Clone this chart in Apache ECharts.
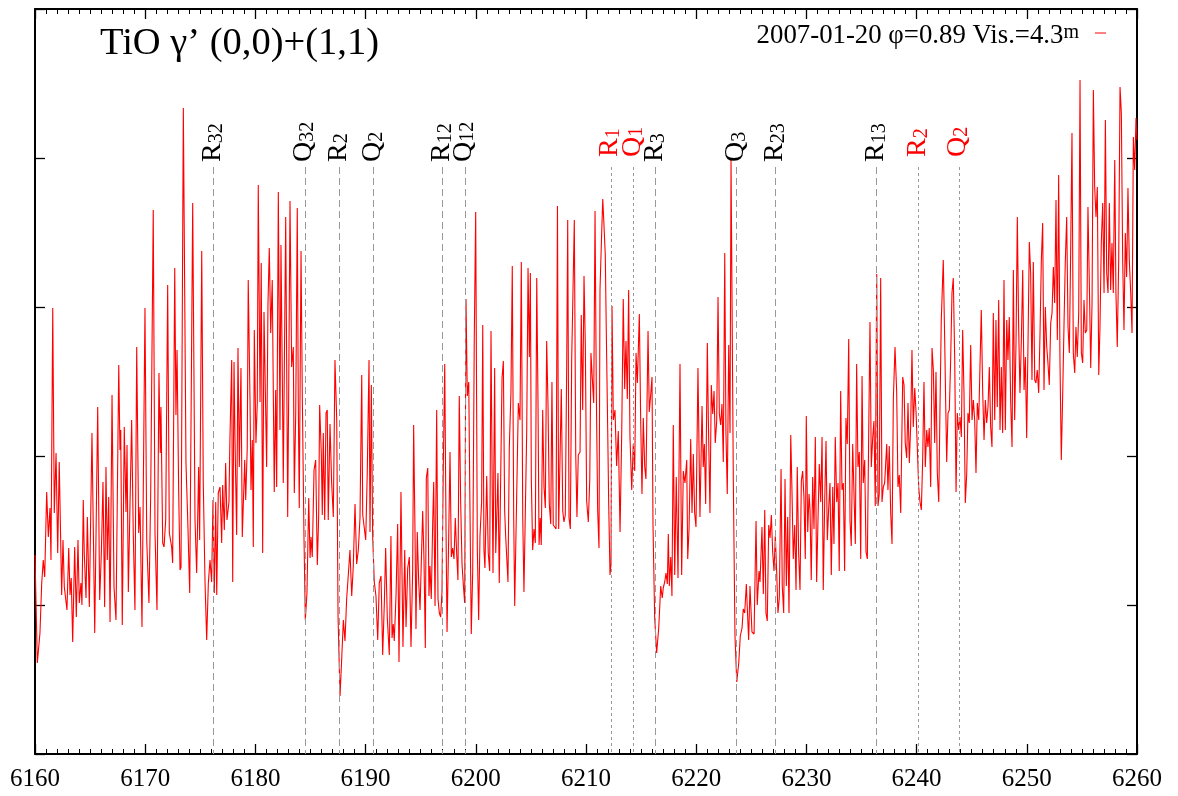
<!DOCTYPE html>
<html>
<head>
<meta charset="utf-8">
<script src="https://cdn.jsdelivr.net/npm/echarts/dist/echarts.min.js"></script>
<style>html,body{margin:0;padding:0;background:#fff;}#chart{width:1178px;height:796px;}</style>
</head>
<body>
<div id="chart"></div>
<script>
// ---- data (wavelength in Å, relative flux in arbitrary units) ----
const X_TICKS = [6160, 6170, 6180, 6190, 6200, 6210, 6220, 6230, 6240, 6250, 6260];
const TITLE = 'TiO γ’ (0,0)+(1,1)';
const LEGEND_MAIN = '2007-01-20 φ=0.89 Vis.=4.3';
const LEGEND_SUP = 'm';
// line identifications: wavelength, branch, subscript, band (0 = (0,0) black, 1 = (1,1) red)
const MARK_WL = [6176.20, 6184.50, 6187.60, 6190.70, 6196.96, 6199.02, 6212.27, 6214.29, 6216.32, 6223.67, 6227.21, 6236.38, 6240.15, 6243.85];
const MARK_BRANCH = ['R', 'Q', 'R', 'Q', 'R', 'Q', 'R', 'Q', 'R', 'Q', 'R', 'R', 'R', 'Q'];
const MARK_SUB = ['32', '32', '2', '2', '12', '12', '1', '1', '3', '3', '23', '13', '2', '2'];
const MARK_BAND = [0, 0, 0, 0, 0, 0, 1, 1, 0, 0, 0, 0, 1, 1];
// spectrum: [wavelength, flux]
const SPECTRUM = [
[6160.00,1.99],[6160.21,0.91],[6160.45,1.21],[6160.61,1.71],[6160.75,1.94],[6160.88,1.77],[6161.06,2.62],[6161.21,2.17],[6161.36,2.46],[6161.45,1.94],[6161.61,4.46],[6161.75,2.41],[6161.91,3.01],[6162.06,2.01],[6162.20,2.92],[6162.42,1.59],[6162.54,2.14],[6162.66,1.67],[6162.90,1.44],[6163.06,2.06],[6163.18,1.59],[6163.29,1.76],[6163.42,1.12],[6163.60,2.07],[6163.75,1.37],[6163.90,2.14],[6164.02,1.51],[6164.17,1.71],[6164.26,1.49],[6164.38,2.54],[6164.47,2.01],[6164.63,1.56],[6164.75,2.37],[6164.93,1.47],[6165.17,3.21],[6165.42,1.21],[6165.69,3.47],[6165.87,1.54],[6166.02,2.01],[6166.17,2.72],[6166.32,1.47],[6166.44,2.87],[6166.56,1.94],[6166.69,2.57],[6166.81,1.32],[6166.99,3.59],[6167.17,1.67],[6167.35,1.34],[6167.60,3.89],[6167.71,3.04],[6167.78,3.24],[6167.92,1.29],[6168.10,3.27],[6168.26,2.42],[6168.35,3.09],[6168.47,1.62],[6168.62,2.49],[6168.77,3.34],[6168.92,2.19],[6169.07,1.44],[6169.23,4.07],[6169.41,2.21],[6169.53,2.47],[6169.71,1.27],[6169.98,4.46],[6170.14,2.14],[6170.34,1.51],[6170.50,2.61],[6170.73,5.44],[6170.89,2.21],[6171.07,1.44],[6171.25,3.81],[6171.37,3.01],[6171.43,3.47],[6171.59,2.11],[6171.71,2.07],[6171.86,2.34],[6172.04,4.69],[6172.19,2.21],[6172.40,2.07],[6172.49,1.91],[6172.68,4.86],[6172.79,3.39],[6172.89,4.04],[6173.04,2.61],[6173.16,1.84],[6173.25,1.87],[6173.46,6.46],[6173.70,2.91],[6173.86,2.34],[6174.04,1.61],[6174.31,5.51],[6174.52,2.34],[6174.67,1.81],[6174.85,2.87],[6174.94,2.14],[6175.13,5.03],[6175.27,2.71],[6175.43,1.71],[6175.58,1.14],[6175.73,1.71],[6175.88,1.94],[6176.03,1.72],[6176.15,2.54],[6176.27,1.61],[6176.40,2.52],[6176.49,1.59],[6176.63,2.61],[6176.79,2.67],[6176.94,2.11],[6177.03,2.69],[6177.18,2.24],[6177.30,2.91],[6177.42,2.34],[6177.60,2.52],[6177.69,3.16],[6177.85,3.94],[6177.94,1.72],[6178.06,3.92],[6178.15,3.14],[6178.30,2.19],[6178.42,4.06],[6178.54,2.87],[6178.69,3.86],[6178.81,2.17],[6179.03,2.94],[6179.12,2.54],[6179.26,3.06],[6179.35,4.74],[6179.51,3.54],[6179.60,2.64],[6179.72,3.14],[6179.81,2.07],[6179.90,4.24],[6180.05,3.11],[6180.17,3.51],[6180.26,5.69],[6180.42,3.52],[6180.53,4.91],[6180.66,2.01],[6180.78,4.42],[6180.90,4.44],[6181.02,2.87],[6181.14,4.49],[6181.26,5.06],[6181.39,4.21],[6181.53,4.74],[6181.71,2.62],[6181.84,3.64],[6181.93,2.67],[6182.08,5.62],[6182.23,3.24],[6182.32,5.09],[6182.44,3.81],[6182.53,2.71],[6182.75,5.37],[6182.93,2.37],[6183.02,3.59],[6183.14,5.53],[6183.29,3.87],[6183.44,4.07],[6183.53,2.61],[6183.66,3.41],[6183.80,5.46],[6183.89,3.54],[6183.98,2.46],[6184.14,5.03],[6184.26,3.54],[6184.41,2.16],[6184.53,1.34],[6184.68,1.61],[6184.84,2.56],[6184.96,1.96],[6185.05,2.17],[6185.16,1.97],[6185.32,2.84],[6185.47,2.94],[6185.62,1.89],[6185.74,2.37],[6185.83,3.49],[6185.98,3.01],[6186.07,2.39],[6186.16,3.21],[6186.29,2.34],[6186.41,3.41],[6186.52,3.44],[6186.61,2.34],
[6186.77,3.30],[6186.92,2.71],[6187.07,2.37],[6187.22,3.94],[6187.38,3.34],[6187.50,1.37],[6187.68,0.58],[6187.83,0.95],[6187.98,1.34],[6188.13,1.13],[6188.28,1.55],[6188.43,1.79],[6188.58,2.04],[6188.74,1.58],[6188.88,1.87],[6189.04,2.50],[6189.19,1.90],[6189.34,2.04],[6189.49,2.36],[6189.65,3.79],[6189.74,2.39],[6189.88,2.37],[6190.01,2.14],[6190.15,2.81],[6190.31,3.94],[6190.40,2.22],[6190.52,3.69],[6190.64,2.18],[6190.79,1.72],[6190.94,1.58],[6191.10,1.14],[6191.24,1.71],[6191.40,1.78],[6191.55,0.99],[6191.70,1.51],[6191.82,2.06],[6191.97,1.36],[6192.06,1.34],[6192.15,0.99],[6192.30,2.18],[6192.40,1.16],[6192.51,1.30],[6192.60,1.13],[6192.76,1.58],[6192.91,2.30],[6193.03,0.92],[6193.21,2.62],[6193.39,1.07],[6193.55,2.04],[6193.67,1.27],[6193.82,1.86],[6193.97,1.97],[6194.12,1.07],[6194.27,1.83],[6194.36,3.29],[6194.48,2.25],[6194.57,1.25],[6194.69,2.22],[6194.82,1.72],[6194.94,1.44],[6195.05,1.90],[6195.18,2.43],[6195.30,1.94],[6195.42,1.06],[6195.51,2.76],[6195.64,2.86],[6195.75,1.58],[6195.84,1.88],[6195.96,1.55],[6196.09,2.32],[6196.18,2.72],[6196.30,1.48],[6196.45,3.44],[6196.57,1.55],[6196.69,1.41],[6196.81,1.37],[6196.93,1.62],[6197.05,2.86],[6197.18,3.90],[6197.30,2.23],[6197.39,1.22],[6197.54,2.16],[6197.66,3.02],[6197.78,1.97],[6197.90,2.06],[6198.02,1.95],[6198.14,2.36],[6198.27,1.99],[6198.38,1.74],[6198.50,3.58],[6198.63,2.50],[6198.75,1.90],[6198.87,1.69],[6198.99,1.51],[6199.11,4.55],[6199.23,3.58],[6199.36,3.72],[6199.47,2.46],[6199.59,1.20],[6199.72,1.83],[6199.86,4.14],[6199.99,5.42],[6200.14,2.04],[6200.26,1.34],[6200.38,2.18],[6200.53,2.53],[6200.63,4.29],[6200.74,2.04],[6200.83,1.86],[6200.99,2.78],[6201.13,2.01],[6201.26,1.83],[6201.38,4.23],[6201.50,2.53],[6201.56,1.81],[6201.71,3.86],[6201.81,2.01],[6202.01,2.81],[6202.13,1.71],[6202.38,3.76],[6202.50,3.93],[6202.62,2.43],[6202.71,2.18],[6202.92,1.72],[6203.04,3.06],[6203.19,3.62],[6203.31,4.88],[6203.44,2.37],[6203.53,1.48],[6203.65,1.48],[6203.77,2.95],[6203.86,3.51],[6204.01,3.34],[6204.13,4.92],[6204.26,2.36],[6204.37,1.62],[6204.62,3.23],[6204.74,4.86],[6204.86,3.97],[6204.95,4.81],[6205.04,2.74],[6205.16,2.04],[6205.28,2.25],[6205.40,2.11],[6205.53,4.76],[6205.64,3.58],[6205.74,2.09],[6205.85,2.36],[6205.94,2.09],[6206.07,3.44],[6206.19,2.67],[6206.31,2.46],[6206.43,4.13],[6206.55,3.51],[6206.67,2.50],[6206.80,2.30],[6206.91,3.72],[6207.03,2.29],[6207.28,2.25],[6207.41,5.48],[6207.52,2.25],[6207.76,3.65],[6207.89,2.43],[6208.00,2.32],[6208.12,2.39],[6208.25,3.90],[6208.34,5.34],[6208.46,2.36],[6208.58,2.25],[6208.70,3.93],[6208.82,3.93],[6208.94,5.34],[6209.07,2.99],[6209.18,2.37],[6209.30,2.99],[6209.46,3.02],[6209.57,4.39],[6209.70,3.44],[6209.82,4.78],[6209.94,4.08],[6210.06,2.53],[6210.21,2.32],[6210.34,2.74],[6210.45,4.01],[6210.57,3.76],[6210.70,3.51],[6210.82,5.43],[6210.94,3.58],[6211.06,2.43],[6211.18,2.06],[6211.27,4.64],[6211.42,5.20],[6211.52,5.55],[6211.61,5.34],[6211.75,4.99],[6211.84,4.24],[6211.97,3.24],[6212.06,2.50],[6212.18,1.79],[6212.27,1.90],[6212.36,4.48],[6212.48,3.34],[6212.63,3.44],[6212.78,2.88],[6212.93,3.23],[6213.09,2.22],[6213.24,3.20],[6213.38,4.55],[6213.51,3.65],[6213.63,4.13],[6213.75,3.55],[6213.87,4.64],
[6213.99,3.17],[6214.15,2.64],[6214.29,3.10],[6214.42,2.83],[6214.54,4.01],[6214.66,3.71],[6214.84,4.40],[6214.96,3.36],[6215.08,2.60],[6215.20,3.36],[6215.33,2.87],[6215.44,2.75],[6215.63,4.23],[6215.74,3.42],[6215.87,3.59],[6215.99,3.77],[6216.08,2.29],[6216.23,1.37],[6216.41,1.01],[6216.60,1.26],[6216.78,1.68],[6216.92,1.56],[6217.01,1.66],[6217.14,1.72],[6217.26,1.81],[6217.38,1.70],[6217.47,2.20],[6217.56,1.68],[6217.69,1.97],[6217.80,1.58],[6217.92,3.29],[6218.05,1.79],[6218.19,2.77],[6218.35,1.76],[6218.53,3.90],[6218.68,1.79],[6218.83,2.83],[6218.98,2.71],[6219.14,2.94],[6219.23,1.95],[6219.35,2.25],[6219.50,3.15],[6219.62,2.41],[6219.74,3.00],[6219.86,2.41],[6219.98,2.27],[6220.16,3.86],[6220.34,2.37],[6220.53,3.48],[6220.64,2.87],[6220.74,3.10],[6220.86,2.50],[6221.01,4.11],[6221.10,3.36],[6221.25,2.41],[6221.37,3.69],[6221.50,3.40],[6221.62,3.63],[6221.73,3.11],[6221.86,3.33],[6221.98,4.57],[6222.10,3.40],[6222.22,3.29],[6222.34,3.50],[6222.46,2.92],[6222.59,5.01],[6222.70,3.21],[6222.82,2.60],[6222.95,4.09],[6223.07,3.21],[6223.16,5.95],[6223.25,5.95],[6223.37,2.71],[6223.52,1.18],[6223.68,0.72],[6223.86,0.91],[6224.00,1.18],[6224.16,1.26],[6224.27,1.45],[6224.40,1.41],[6224.55,1.70],[6224.64,1.45],[6224.76,1.14],[6224.88,1.68],[6225.06,1.22],[6225.25,1.20],[6225.43,2.33],[6225.54,1.49],[6225.70,1.83],[6225.79,1.72],[6225.97,2.27],[6226.09,1.60],[6226.22,2.44],[6226.33,1.41],[6226.45,1.33],[6226.58,2.29],[6226.70,2.16],[6226.82,2.39],[6226.94,2.02],[6227.06,1.83],[6227.18,2.18],[6227.30,1.83],[6227.42,1.41],[6227.54,1.56],[6227.70,2.85],[6227.81,1.68],[6227.94,1.41],[6228.06,2.75],[6228.18,1.68],[6228.30,2.37],[6228.42,1.41],[6228.58,3.19],[6228.69,2.64],[6228.81,1.95],[6228.94,2.29],[6229.06,1.64],[6229.17,2.87],[6229.30,1.99],[6229.42,1.64],[6229.54,2.73],[6229.66,2.83],[6229.78,2.56],[6229.90,1.95],[6229.99,3.38],[6230.12,2.22],[6230.24,2.60],[6230.33,2.44],[6230.44,1.74],[6230.57,2.77],[6230.69,2.25],[6230.81,3.17],[6230.93,1.72],[6231.05,2.33],[6231.17,2.90],[6231.30,2.52],[6231.42,3.17],[6231.53,1.64],[6231.66,2.52],[6231.78,3.13],[6231.90,2.14],[6232.02,2.45],[6232.14,2.71],[6232.26,1.79],[6232.39,2.67],[6232.50,2.10],[6232.62,3.17],[6232.75,2.52],[6232.87,2.71],[6232.98,1.83],[6233.11,3.63],[6233.23,2.64],[6233.35,2.71],[6233.47,1.83],[6233.59,3.36],[6233.71,3.10],[6233.84,4.15],[6233.96,2.33],[6234.07,2.08],[6234.20,3.10],[6234.44,2.10],[6234.56,3.90],[6234.68,2.87],[6234.80,3.02],[6234.93,1.95],[6235.05,3.78],[6235.16,2.71],[6235.29,2.94],[6235.41,2.02],[6235.53,1.95],[6235.65,3.17],[6235.77,4.32],[6235.89,2.87],[6236.02,3.17],[6236.13,3.33],[6236.25,2.48],[6236.38,4.80],[6236.50,2.48],[6236.61,2.60],[6236.74,4.76],[6236.86,2.52],[6236.98,2.67],[6237.10,2.71],[6237.29,3.10],[6237.40,2.64],[6237.52,3.08],[6237.65,2.41],[6237.77,2.10],[6237.89,3.55],[6238.04,4.07],[6238.19,3.63],[6238.31,2.67],[6238.43,2.79],
[6238.56,2.41],[6238.74,3.77],[6238.86,3.69],[6238.97,3.11],[6239.10,2.96],[6239.22,3.51],[6239.34,2.91],[6239.46,3.27],[6239.58,4.04],[6239.70,3.27],[6239.83,3.66],[6239.95,3.42],[6240.19,2.67],[6240.31,2.52],[6240.43,2.44],[6240.55,2.94],[6240.67,3.72],[6240.79,2.87],[6240.92,3.24],[6241.03,3.07],[6241.15,3.26],[6241.28,2.67],[6241.40,4.06],[6241.52,3.84],[6241.64,3.11],[6241.76,3.82],[6241.88,2.81],[6242.01,2.52],[6242.12,3.44],[6242.24,4.34],[6242.42,4.94],[6242.55,4.14],[6242.64,3.51],[6242.73,2.92],[6242.85,3.41],[6242.97,3.44],[6243.09,3.94],[6243.21,4.61],[6243.33,4.76],[6243.46,3.94],[6243.58,2.62],[6243.69,3.41],[6243.82,3.24],[6243.94,3.37],[6244.06,3.17],[6244.18,4.24],[6244.30,3.61],[6244.42,2.51],[6244.55,2.81],[6244.66,3.41],[6244.78,3.31],[6244.91,4.09],[6245.03,3.34],[6245.15,3.54],[6245.27,3.34],[6245.39,2.81],[6245.51,3.51],[6245.64,3.34],[6245.75,3.87],[6245.87,4.44],[6246.00,3.61],[6246.12,3.14],[6246.24,3.54],[6246.36,3.31],[6246.48,3.47],[6246.60,3.87],[6246.72,3.27],[6246.84,3.07],[6246.96,4.41],[6247.09,3.34],[6247.20,4.34],[6247.32,3.47],[6247.45,4.54],[6247.57,3.24],[6247.69,3.87],[6247.81,3.21],[6247.93,4.74],[6248.05,3.24],[6248.18,4.34],[6248.29,3.94],[6248.41,4.37],[6248.54,3.51],[6248.66,3.07],[6248.78,4.84],[6248.90,3.34],[6249.02,4.11],[6249.14,5.37],[6249.26,4.27],[6249.38,3.61],[6249.50,4.11],[6249.63,4.84],[6249.75,3.64],[6249.87,3.97],[6249.99,3.16],[6250.11,4.11],[6250.23,5.12],[6250.35,4.81],[6250.47,3.74],[6250.59,4.92],[6250.72,3.74],[6250.83,3.71],[6250.95,3.84],[6251.08,3.61],[6251.20,4.21],[6251.32,4.94],[6251.44,5.31],[6251.56,3.64],[6251.68,4.47],[6251.81,4.07],[6251.92,3.91],[6252.04,3.69],[6252.17,4.31],[6252.29,4.41],[6252.41,4.87],[6252.53,4.51],[6252.65,5.54],[6252.77,4.14],[6252.89,5.79],[6253.01,3.94],[6253.13,2.94],[6253.26,3.61],[6253.38,4.31],[6253.49,4.91],[6253.62,5.37],[6253.74,4.27],[6253.86,4.01],[6253.98,5.02],[6254.10,6.21],[6254.22,4.01],[6254.35,3.81],[6254.46,4.27],[6254.58,3.97],[6254.71,4.41],[6254.83,6.74],[6254.95,4.01],[6255.07,3.91],[6255.19,4.54],[6255.31,4.21],[6255.44,4.24],[6255.55,5.47],[6255.67,4.74],[6255.80,3.86],[6255.92,4.51],[6256.04,6.64],[6256.16,5.67],[6256.28,5.37],[6256.40,5.67],[6256.53,3.79],[6256.64,4.27],[6256.76,5.11],[6256.89,5.51],[6257.01,4.61],[6257.13,6.34],[6257.25,4.81],[6257.37,4.61],[6257.49,5.51],[6257.61,4.64],[6257.73,5.11],[6257.85,4.61],[6257.98,5.94],[6258.09,4.61],[6258.21,4.07],[6258.34,4.94],[6258.46,6.67],[6258.58,6.41],[6258.70,4.94],[6258.82,4.24],[6258.94,5.21],[6259.06,4.77],[6259.18,5.66],[6259.30,4.94],[6259.43,4.61],[6259.55,4.21],[6259.67,6.17],[6259.79,5.84],[6259.91,6.36],[6260.00,6.14]
];

// ---- presentation ----
const FONT = '"Liberation Serif", "DejaVu Serif", serif';
const Y_MAX = 7.45, Y_STEP = 1.49;   // five tick intervals, unlabeled
const MARK_TOP = 5.87;               // where identification lines start (flux units)

function xAxisDef(pos, labels) {
  return {
    type: 'value', position: pos, min: X_TICKS[0], max: X_TICKS[X_TICKS.length - 1], interval: 10,
    axisLine: { show: true, onZero: false, lineStyle: { color: '#000', width: 2 } },
    axisTick: { show: true, inside: true, length: 10, lineStyle: { color: '#000', width: 1.3 } },
    minorTick: { show: true, splitNumber: 10, length: 5, lineStyle: { color: '#000', width: 1 } },
    axisLabel: { show: labels, margin: 13, color: '#000', fontFamily: FONT, fontSize: 25,
                 showMinLabel: true, showMaxLabel: true, formatter: v => String(v) },
    splitLine: { show: false }, minorSplitLine: { show: false }
  };
}
function yAxisDef(pos) {
  return {
    type: 'value', position: pos, min: 0, max: Y_MAX, interval: Y_STEP,
    axisLine: { show: true, onZero: false, lineStyle: { color: '#000', width: 2 } },
    axisTick: { show: true, inside: true, length: 10, lineStyle: { color: '#000', width: 1.3 } },
    axisLabel: { show: false }, splitLine: { show: false }
  };
}

const option = {
  animation: false,
  backgroundColor: '#fff',
  grid: { left: 35, right: 41, top: 9, bottom: 42, containLabel: false, outerBoundsMode: 'none' },
  xAxis: [xAxisDef('bottom', true), xAxisDef('top', false)],
  yAxis: [yAxisDef('left'), yAxisDef('right')],
  series: [
    {
      type: 'line', data: [], silent: true, z: 1,
      markLine: {
        silent: true, symbol: ['none', 'none'], animation: false, label: { show: false },
        data: MARK_WL.map((w, i) => [
          { coord: [w, MARK_TOP], lineStyle: { color: '#999', width: 1, type: MARK_BAND[i] ? [3, 3] : [7, 4] } },
          { coord: [w, 0] }
        ])
      }
    },
    {
      type: 'line', data: SPECTRUM, showSymbol: false, symbol: 'none', z: 3,
      lineStyle: { color: '#ff0000', width: 1.1 }, silent: true
    }
  ]
};

const chart = echarts.init(document.getElementById('chart'));
chart.setOption(option);

const topPx = chart.convertToPixel({ yAxisIndex: 0 }, MARK_TOP);
const graphics = [];
MARK_WL.forEach((w, i) => {
  const px = chart.convertToPixel({ xAxisIndex: 0 }, w);
  const col = MARK_BAND[i] ? '#ff0000' : '#000';
  graphics.push({
    type: 'text', x: px - 1, y: topPx - (MARK_BAND[i] ? 10 : 5), rotation: Math.PI / 2, silent: true, z: 10,
    style: {
      text: '{m|' + MARK_BRANCH[i] + '}{s|' + MARK_SUB[i] + '}',
      align: 'left', verticalAlign: 'middle', fill: col,
      rich: {
        m: { fontSize: 28, fontFamily: FONT, lineHeight: 28, fill: col },
        s: { fontSize: 20, fontFamily: FONT, lineHeight: 7, verticalAlign: 'bottom', fill: col }
      }
    }
  });
});
graphics.push({
  type: 'text', x: 100, y: 44, silent: true, z: 10,
  style: { text: TITLE, fontSize: 38.5, fontFamily: FONT, fill: '#000', align: 'left', verticalAlign: 'middle' }
});
graphics.push({
  type: 'text', x: 1079, y: 36, silent: true, z: 10,
  style: {
    text: '{a|' + LEGEND_MAIN + '}{b|' + LEGEND_SUP + '}', align: 'right', verticalAlign: 'middle', fill: '#000',
    rich: {
      a: { fontSize: 26.8, fontFamily: FONT, lineHeight: 27, fill: '#000' },
      b: { fontSize: 20, fontFamily: FONT, lineHeight: 7, verticalAlign: 'top', fill: '#000' }
    }
  }
});
graphics.push({
  type: 'line', silent: true, z: 10,
  shape: { x1: 1095, y1: 33, x2: 1106, y2: 33 },
  style: { stroke: '#ff0000', lineWidth: 1 }
});
chart.setOption({ graphic: graphics });
</script>
</body>
</html>
